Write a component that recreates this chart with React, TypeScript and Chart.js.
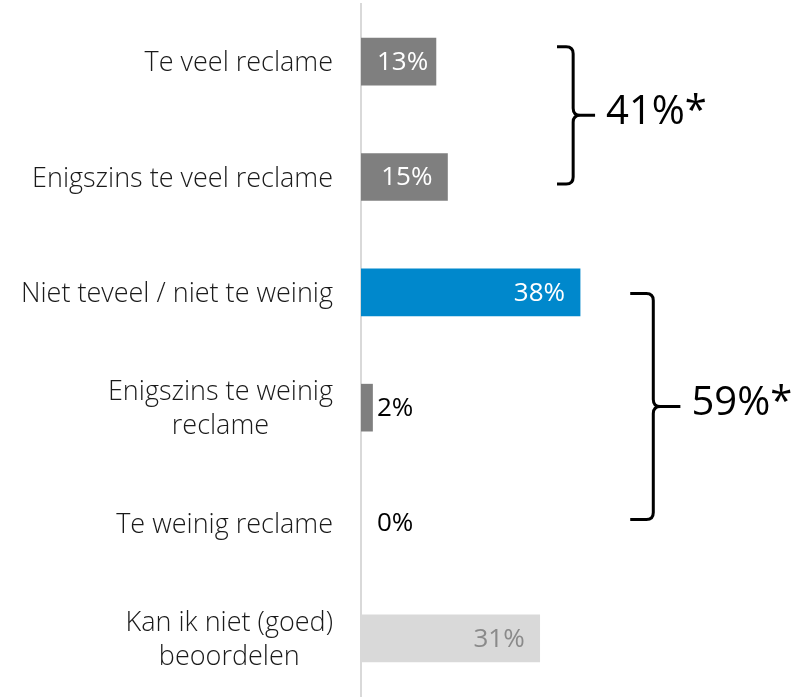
import React, { useEffect, useRef } from "react";
import { Chart, registerables } from "chart.js";

Chart.register(...registerables);

const categories: string[][] = [
  ["Te veel reclame"],
  ["Enigszins te veel reclame"],
  ["Niet teveel / niet te weinig"],
  ["Enigszins te weinig", "reclame"],
  ["Te weinig reclame"],
  ["Kan ik niet (goed)", "beoordelen"],
];
const values: number[] = [13, 15, 38, 2, 0, 31];

const groupLabels: string[] = ["41%*", "59%*"];
const groupFrom: number[] = [0, 2];
const groupTo: number[] = [1, 4];

const barColors = ["#7f7f7f", "#7f7f7f", "#0088cc", "#7f7f7f", "#7f7f7f", "#d9d9d9"];
const insideLabelColors = ["#ffffff", "#ffffff", "#ffffff", "#ffffff", "#ffffff", "#8a8a8a"];
const FONT = "'Open Sans', 'DejaVu Sans', sans-serif";

const categoryLabelPlugin = {
  id: "categoryLabels",
  afterDraw(chart: any) {
    const ctx = chart.ctx;
    const y = chart.scales.y;
    const right = chart.chartArea.left - 28;
    ctx.save();
    ctx.font = `300 27px ${FONT}`;
    ctx.fillStyle = "#1a1a1a";
    ctx.textBaseline = "middle";
    const lh = 34;
    categories.forEach((lines, i) => {
      const cy = y.getPixelForValue(i) + 2;
      const widths = lines.map((l) => ctx.measureText(l).width);
      const maxW = Math.max(...widths);
      const cx = right - maxW / 2;
      ctx.textAlign = "center";
      lines.forEach((l, j) => {
        const ly = cy + (j - (lines.length - 1) / 2) * lh;
        ctx.fillText(l, cx, ly);
      });
    });
    ctx.restore();
  },
};

const valueLabelPlugin = {
  id: "valueLabels",
  afterDatasetsDraw(chart: any) {
    const ctx = chart.ctx;
    const meta = chart.getDatasetMeta(0);
    ctx.save();
    ctx.font = `400 26px ${FONT}`;
    ctx.textBaseline = "middle";
    meta.data.forEach((bar: any, i: number) => {
      const v = values[i];
      const text = `${v}%`;
      const tw = ctx.measureText(text).width;
      const end = bar.x;
      const base = bar.base;
      const cy = bar.y + 1;
      if (end - base >= tw + 12) {
        ctx.fillStyle = insideLabelColors[i];
        ctx.textAlign = "right";
        const xr = Math.max(end - 15, base + 16 + tw);
        ctx.fillText(text, xr, cy);
      } else {
        ctx.fillStyle = "#000000";
        ctx.textAlign = "left";
        ctx.fillText(text, Math.max(end + 4, base + 16), cy);
      }
    });
    ctx.restore();
  },
};

const bracketPlugin = {
  id: "brackets",
  afterDraw(chart: any) {
    const ctx = chart.ctx;
    const xs = chart.scales.x;
    const ys = chart.scales.y;
    // geometry per bracket: [topOffset, bottomOffset, leftVal, lineVal, tipVal]
    const geom = [
      [-0.13, 0.06, 34.0, 36.8, 40.6],
      [0.01, -0.03, 46.7, 50.7, 55.4],
    ];
    ctx.save();
    ctx.strokeStyle = "#000000";
    ctx.lineWidth = 3;
    ctx.lineCap = "butt";
    ctx.lineJoin = "round";
    groupLabels.forEach((label, g) => {
      const [tOff, bOff, lv, vv, tv] = geom[g];
      const top = ys.getPixelForValue(groupFrom[g] + tOff);
      const bottom = ys.getPixelForValue(groupTo[g] + bOff);
      const mid = (top + bottom) / 2;
      const left = xs.getPixelForValue(lv);
      const vx = xs.getPixelForValue(vv);
      const tip = xs.getPixelForValue(tv);
      const r = 7;
      ctx.beginPath();
      ctx.moveTo(left, top);
      ctx.lineTo(vx - r, top);
      ctx.quadraticCurveTo(vx, top, vx, top + r);
      ctx.lineTo(vx, mid - r);
      ctx.quadraticCurveTo(vx, mid, vx + r, mid);
      ctx.lineTo(tip, mid);
      ctx.moveTo(vx + r, mid);
      ctx.quadraticCurveTo(vx, mid, vx, mid + r);
      ctx.lineTo(vx, bottom - r);
      ctx.quadraticCurveTo(vx, bottom, vx - r, bottom);
      ctx.lineTo(left, bottom);
      ctx.stroke();
      ctx.font = `400 40px ${FONT}`;
      ctx.fillStyle = "#000000";
      ctx.textAlign = "left";
      ctx.textBaseline = "middle";
      ctx.fillText(label, tip + 11, mid - 3);
    });
    ctx.restore();
  },
};

export default function App() {
  const ref = useRef<HTMLCanvasElement | null>(null);
  useEffect(() => {
    if (!ref.current) return;
    const chart = new Chart(ref.current, {
      type: "bar",
      data: {
        labels: categories,
        datasets: [
          {
            data: values,
            backgroundColor: (c: any) =>
              values[c.dataIndex] === 0 ? "rgba(0,0,0,0)" : barColors[c.dataIndex],
            borderWidth: 0,
            barThickness: 47,
          },
        ],
      },
      options: {
        indexAxis: "y",
        responsive: false,
        animation: false,
        layout: { padding: { top: 4, bottom: 2, left: 0, right: 0 } },
        plugins: {
          legend: { display: false },
          tooltip: { enabled: false },
        },
        scales: {
          x: {
            display: false,
            min: 0,
            max: 75.8,
            grid: { display: false },
          },
          y: {
            display: true,
            ticks: { display: false },
            grid: { display: false, drawTicks: false },
            border: { display: true, color: "#d9d9d9", width: 2 },
            afterFit: (scale: any) => {
              scale.width = 361;
            },
          },
        },
      } as any,
      plugins: [categoryLabelPlugin, valueLabelPlugin, bracketPlugin],
    });
    return () => chart.destroy();
  }, []);
  return (
    <div style={{ position: "fixed", left: 0, top: 0, width: 798, height: 698, background: "#fff" }}>
      <canvas ref={ref} width={798} height={698} />
    </div>
  );
}
